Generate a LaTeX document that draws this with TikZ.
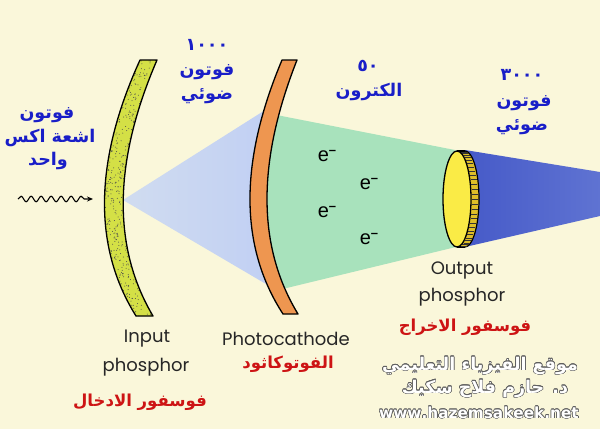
\documentclass[tikz,border=0pt]{standalone}
\usepackage{fontspec}
\usepackage{contour}
\setmainfont{Poppins}
\newfontfamily\arabicfont[Script=Arabic]{DejaVu Sans}
\newfontfamily\arialfont{Liberation Sans}
\TeXXeTstate=1
\usetikzlibrary{decorations.pathmorphing,arrows.meta}
\definecolor{bg}{RGB}{250,247,218}
\definecolor{arblue}{RGB}{25,30,200}
\definecolor{arred}{RGB}{205,20,20}
\definecolor{phosgreen}{RGB}{212,224,70}
\definecolor{cathorange}{RGB}{238,150,80}
\definecolor{conelight}{RGB}{208,220,240}
\definecolor{conedark}{RGB}{190,205,244}
\definecolor{beamgreen}{RGB}{168,226,188}
\definecolor{beamdark}{RGB}{70,90,200}
\definecolor{beamdark2}{RGB}{95,115,210}
\definecolor{discyellow}{RGB}{250,235,70}
\definecolor{discside}{RGB}{222,190,40}
\definecolor{wmgray}{RGB}{95,95,95}
\contourlength{0.55pt}
\contournumber{16}
\newcommand\elecsym{e\raisebox{0.62ex}{\fontsize{13}{13}\selectfont\bfseries –}}
\tikzset{
  ar/.style={font=\arabicfont\bfseries\fontsize{17.5}{20}\selectfont, inner sep=0pt},
  arb/.style={ar, text=arblue},
  arr/.style={ar, font=\arabicfont\bfseries\fontsize{16.5}{18}\selectfont, text=arred},
  en/.style={font=\fontsize{18}{20}\selectfont, inner sep=0pt, text=black!85},
  elec/.style={font=\arialfont\fontsize{20}{22}\selectfont, inner sep=0pt},
  wm/.style={font=\arabicfont\bfseries\fontsize{17.5}{20}\selectfont, inner sep=0pt, text=white},
  wmurl/.style={wm, font=\arabicfont\bfseries\fontsize{15.3}{18}\selectfont},
  edge/.style={draw=black, line width=1.3pt, line join=round}
}
\begin{document}
\begin{tikzpicture}[x=1pt,y=-1pt]
\fill[bg] (0,0) rectangle (600,429);
\useasboundingbox (0,0) rectangle (600,429);

% light blue cone (left of photocathode)
\begin{scope}
  \clip (282,60) .. controls (239,162) and (239.3,246.7) .. (283,314) -- (283,429) -- (0,429) -- (0,0) -- (282,0) -- cycle;
  \shade[left color=conelight, right color=conedark] (123,200) -- (300,88) -- (300,304) -- cycle;
\end{scope}
% green electron beam (right of photocathode)
\begin{scope}
  \clip (282,60) .. controls (239,162) and (239.3,246.7) .. (283,314) -- (283,429) -- (600,429) -- (600,0) -- (282,0) -- cycle;
  \fill[beamgreen] (200,100) -- (460,151) -- (460,246) -- (200,309) -- cycle;
\end{scope}
% dark blue light beam
\shade[left color=beamdark, right color=beamdark2] (465,150) -- (600,172) -- (600,216) -- (465,247) -- cycle;

% input phosphor
\def\inphos{(140,60) .. controls (94,161) and (92.7,246.7) .. (136,316) -- (153,316) .. controls (112,246.7) and (113.3,161.3) .. (157,60) -- cycle}
\fill[phosgreen] \inphos;
\begin{scope}
  \clip \inphos;
  \pgfmathsetseed{7}
  \foreach \i in {1,...,1400} {
    \pgfmathsetmacro\rx{88+rnd*72}
    \pgfmathsetmacro\ry{58+rnd*260}
    \fill[black!70] (\rx,\ry) circle (0.5);
  }
\end{scope}
\draw[edge] \inphos;

% photocathode
\draw[edge, fill=cathorange] (282,60) .. controls (239,162) and (239.3,246.7) .. (283,314) -- (298,314) .. controls (257,246.7) and (256.7,162) .. (297,60) -- cycle;

% output phosphor disc
\draw[line width=1.2pt, fill=discside] (465,199) ellipse [x radius=14, y radius=48];
\fill[discside] (457,151) rectangle (465,247);
\draw[line width=1.2pt] (457,151) -- (465,151);
\draw[line width=1.2pt] (457,247) -- (465,247);
\foreach \t in {-78,-72,...,78}
  \draw[line width=0.5pt, black!80] ({458+14*cos(\t)},{199+48*sin(\t)}) -- ({464+14*cos(\t)},{199+48*sin(\t)});
\draw[line width=1.3pt, fill=discyellow] (457,199) ellipse [x radius=14, y radius=48];

% incoming x-ray photon
\coordinate (xs) at (18,199);
\coordinate (xe) at (93,199);
\draw[line width=1.1pt, -{Stealth[length=6pt,width=5pt]}, decorate, decoration={snake, amplitude=2.8pt, segment length=10pt, post length=6pt}] (xs) -- (xe);

% blue Arabic labels
\node[arb] (n1000) at (207,45) {١٠٠٠};
\node[arb] (fot1) at (207,72) {\beginR فوتون\endR};
\node[arb] (daw1) at (207,96) {\beginR ضوئي\endR};

\node[arb] (fotL) at (47,115) {\beginR فوتون\endR};
\node[arb] (ashea) at (50,138) {\beginR اشعة اكس\endR};
\node[arb] (wahid) at (48,161) {\beginR واحد\endR};

\node[arb] (n50) at (368,66) {٥٠};
\node[arb] (elecs) at (369,92) {\beginR الكترون\endR};

\node[arb] (n3000) at (522,75) {٣٠٠٠};
\node[arb] (fot3) at (524,103) {\beginR فوتون\endR};
\node[arb] (daw3) at (522,127) {\beginR ضوئي\endR};

% electrons
\node[elec] (e1) at (327,156) {\elecsym};
\node[elec] (e2) at (369,184) {\elecsym};
\node[elec] (e3) at (327,212) {\elecsym};
\node[elec] (e4) at (369,239) {\elecsym};

% English labels
\node[en] (inp1) at (147,339) {Input};
\node[en] (inp2) at (146,367) {phosphor};
\node[arr] (inpar) at (140,402) {\beginR فوسفور الادخال\endR};

\node[en] (pc) at (286,339) {Photocathode};
\node[arr] (pcar) at (288,364) {\beginR الفوتوكاثود\endR};

\node[en] (out1) at (462,270) {Output};
\node[en] (out2) at (462,297) {phosphor};
\node[arr] (outar) at (465,327) {\beginR فوسفور الاخراج\endR};

% watermark
\node[wm] (wm1) at (480,366) {\contour{wmgray}{\beginR موقع الفيزياء التعليمي\endR}};
\node[wm] (wm2) at (485,389) {\contour{wmgray}{\beginR د. حازم فلاح سكيك\endR}};
\node[wmurl] (wm3) at (479,413) {\contour{wmgray}{www.hazemsakeek.net}};
\end{tikzpicture}
\end{document}
